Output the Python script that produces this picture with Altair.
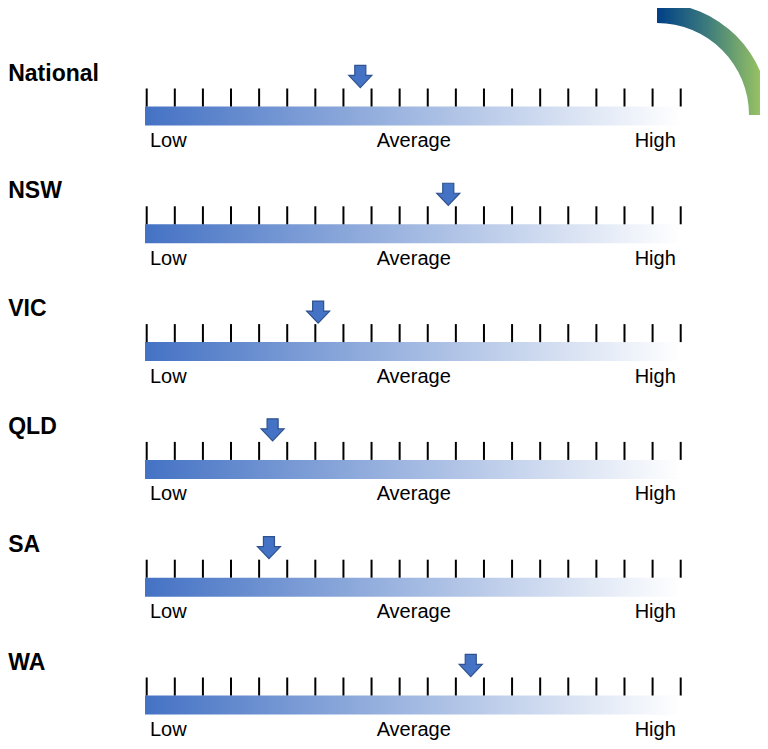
import math
import altair as alt
import pandas as pd

# ---- data ----
regions = ["National", "NSW", "VIC", "QLD", "SA", "WA"]
scores = [7.6, 10.73, 6.1, 4.48, 4.35, 11.53]      # arrow position on the 0..19 tick scale
tick_values = list(range(20))
level_labels = ["Low", "Average", "High"]
level_positions = [0, 9.5, 19]

# ---- layout (svg pixels) ----
ROW = 117.8
NAME_BASE, ARROW_Y = 72.5, 68.5
TICK_TOP, TICK_BOT = 80.5, 98.5
BAR_TOP, BAR_BOT = 98.5, 117.5
LABEL_BASE = 139
H = 733
FONT = "Liberation Sans"

rows_df = pd.DataFrame({
    "region": regions,
    "score": scores,
    "row": range(len(regions)),
})
rows_df["name_y"] = NAME_BASE + rows_df["row"] * ROW
rows_df["arrow_y"] = ARROW_Y + rows_df["row"] * ROW
rows_df["bar_y"] = BAR_TOP + rows_df["row"] * ROW
rows_df["bar_y2"] = BAR_BOT + rows_df["row"] * ROW
rows_df["bar_x"] = -0.06
rows_df["bar_x2"] = 19

ticks_df = pd.DataFrame(
    [{"t": t, "y": TICK_TOP + r * ROW, "y2": TICK_BOT + r * ROW}
     for r in range(len(regions)) for t in tick_values]
)
labels_df = pd.DataFrame(
    [{"label": lab, "pos": p, "y": LABEL_BASE + r * ROW}
     for r in range(len(regions)) for lab, p in zip(level_labels, level_positions)]
)

xs = alt.Scale(domain=[0, 19], nice=False, zero=False)
ys = alt.Scale(domain=[0, H], reverse=True, nice=False, zero=False)

bar_grad = alt.LinearGradient(
    gradient="linear", x1=0, x2=1, y1=0, y2=0,
    stops=[alt.GradientStop(color="#4472C4", offset=0),
           alt.GradientStop(color="#ffffff", offset=1)],
)
arc_grad = alt.LinearGradient(
    gradient="linear", x1=0, x2=1, y1=0, y2=0,
    stops=[alt.GradientStop(color="#003f87", offset=0),
           alt.GradientStop(color="#3d7c7c", offset=0.45),
           alt.GradientStop(color="#a6cd5f", offset=1)],
)

bars = alt.Chart(rows_df).mark_rect(fill=bar_grad).encode(
    x=alt.X("bar_x:Q", scale=xs, axis=None),
    x2="bar_x2:Q",
    y=alt.Y("bar_y:Q", scale=ys, axis=None),
    y2="bar_y2:Q",
)

ticks = alt.Chart(ticks_df).mark_rule(color="#000000", strokeWidth=2).encode(
    x=alt.X("t:Q", scale=xs, axis=None),
    y=alt.Y("y:Q", scale=ys, axis=None),
    y2="y2:Q",
)

arrow_path = "M-0.48,-0.96 L0.48,-0.96 L0.48,-0.09 L1,-0.09 L0,0.96 L-1,-0.09 L-0.48,-0.09 Z"
arrows = alt.Chart(rows_df).mark_point(
    shape=arrow_path, size=529, filled=True, fill="#4472C4",
    stroke="#2F528F", strokeWidth=1.2, opacity=1,
).encode(
    x=alt.X("score:Q", scale=xs, axis=None),
    y=alt.Y("arrow_y:Q", scale=ys, axis=None),
)

names = alt.Chart(rows_df).mark_text(
    align="left", baseline="alphabetic", font=FONT, fontSize=23,
    fontWeight="bold", color="#000000",
).encode(
    x=alt.value(-138.5),
    y=alt.Y("name_y:Q", scale=ys, axis=None),
    text="region:N",
)

def level_layer(label, align, dx):
    return alt.Chart(labels_df).transform_filter(
        alt.datum.label == label
    ).mark_text(
        align=align, baseline="alphabetic", font=FONT, fontSize=20,
        color="#000000", dx=dx,
    ).encode(
        x=alt.X("pos:Q", scale=xs, axis=None),
        y=alt.Y("y:Q", scale=ys, axis=None),
        text="label:N",
    )

low = level_layer("Low", "left", 3.3)
avg = level_layer("Average", "center", 0)
high = level_layer("High", "right", -4.9)

arc = alt.Chart(pd.DataFrame({"k": [0]})).mark_arc(
    theta=0, theta2=math.pi / 2, outerRadius=112, innerRadius=92, fill=arc_grad,
).encode(
    x=alt.value(510.3),
    y=alt.value(107),
)

chart = alt.layer(arc, bars, ticks, arrows, names, low, avg, high).properties(
    width=534,
    height=H,
    padding={"left": 138.7, "top": 0, "right": 79.3, "bottom": 0},
    autosize=alt.AutoSizeParams(type="none"),
).configure_view(strokeWidth=0)

chart.save("out.html", embed_options={"renderer": "svg", "actions": False})
